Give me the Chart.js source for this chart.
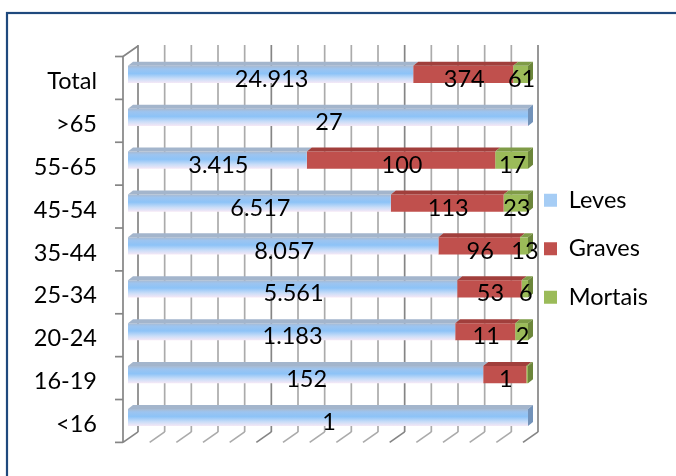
<!DOCTYPE html>
<html>
<head>
<meta charset="utf-8">
<script src="https://cdn.jsdelivr.net/npm/chart.js@4/dist/chart.umd.min.js"></script>
<style>
html,body{margin:0;padding:0;background:#ffffff;}
#wrap{width:676px;height:476px;position:relative;}
</style>
</head>
<body>
<div id="wrap"><canvas id="c" width="676" height="476"></canvas></div>
<script>
// ---- data ----
const categories = ['Total', '>65', '55-65', '45-54', '35-44', '25-34', '20-24', '16-19', '<16'];
const seriesNames = ['Leves', 'Graves', 'Mortais'];
// bar lengths as share of the full (100%) bar
const levesShare   = [71.3, 100, 44.7, 65.7, 77.6, 82.3, 81.8, 88.8, 100];
const gravesShare  = [25.0,   0, 47.1, 28.2, 20.4, 16.1, 15.0, 10.8,   0];
const mortaisShare = [ 3.7,   0,  8.2,  6.1,  2.0,  1.6,  3.2,  0.4,   0];
// value labels printed on the bars
const levesLabels   = ['24.913', '27', '3.415', '6.517', '8.057', '5.561', '1.183', '152', '1'];
const gravesLabels  = ['374', '', '100', '113', '96', '53', '11', '1', ''];
const mortaisLabels = ['61', '', '17', '23', '13', '6', '2', '', ''];
const gridSteps = 15;

// ---- styles ----
const FONT = 'Lato, "Open Sans", sans-serif';
const FSIZE = 23.5;
const BAR_PCT = 0.4;
const DX = 5, DY = 4;           // bar depth
const BACK = {dx: 10, dy: -7};  // back wall offset from bar plane
const FRONT = {dx: -5, dy: 3.5};// front plane offset from bar plane
const topColors  = ['#A3B5CC', '#A13F3C', '#7F9B47'];
const sideColors = ['#7393BA', '#8E3532', '#6C863B'];
const labelArrays = [levesLabels, gravesLabels, mortaisLabels];

function levesFill(c) {
  const chart = c.chart;
  const y = chart.scales && chart.scales.y;
  if (!y || c.dataIndex === undefined || !chart.chartArea) return '#8EC3F5';
  const band = Math.abs(y.getPixelForValue(1) - y.getPixelForValue(0));
  const h = band * BAR_PCT;
  const cy = y.getPixelForValue(c.dataIndex);
  const g = chart.ctx.createLinearGradient(0, cy - h / 2, 0, cy + h / 2);
  g.addColorStop(0, '#A9BAD0');
  g.addColorStop(0.18, '#9CC4F0');
  g.addColorStop(0.45, '#8DC3F7');
  g.addColorStop(0.75, '#C9DDF8');
  g.addColorStop(1, '#F5E8F6');
  return g;
}

const framePlugin = {
  id: 'frame',
  beforeDraw(chart) {
    const ctx = chart.ctx;
    ctx.save();
    ctx.strokeStyle = '#1F497D';
    ctx.lineWidth = 2.2;
    ctx.strokeRect(7, 13, 720, 520);
    ctx.restore();
  }
};

const wallsPlugin = {
  id: 'walls',
  beforeDatasetsDraw(chart) {
    const ctx = chart.ctx;
    const xs = chart.scales.x;
    const top = chart.chartArea.top, bottom = chart.chartArea.bottom;
    const left = chart.chartArea.left;
    ctx.save();
    ctx.lineCap = 'butt';
    for (let k = 0; k <= gridSteps; k++) {
      const X = xs.getPixelForValue(k * 100 / gridSteps);
      const major = k % 5 === 0;
      ctx.strokeStyle = major ? '#858585' : '#ABABAB';
      ctx.lineWidth = 1.7;
      ctx.beginPath();
      ctx.moveTo(X + BACK.dx, top + BACK.dy - 1);
      ctx.lineTo(X + BACK.dx, bottom + BACK.dy);
      ctx.stroke();
      ctx.beginPath();
      ctx.moveTo(X + FRONT.dx, bottom + FRONT.dy);
      ctx.lineTo(X + BACK.dx, bottom + BACK.dy);
      ctx.stroke();
    }
    ctx.strokeStyle = '#858585';
    ctx.lineWidth = 1.7;
    const fx = left + FRONT.dx;
    ctx.beginPath();
    ctx.moveTo(fx, top + FRONT.dy);
    ctx.lineTo(fx, bottom + FRONT.dy);
    ctx.moveTo(fx, top + FRONT.dy);
    ctx.lineTo(left + BACK.dx, top + BACK.dy);
    ctx.stroke();
    const band = (bottom - top) / categories.length;
    for (let j = 0; j <= categories.length; j++) {
      const yy = top + FRONT.dy + j * band;
      ctx.beginPath();
      ctx.moveTo(fx - 8, yy);
      ctx.lineTo(fx, yy);
      ctx.stroke();
    }
    ctx.restore();
  }
};

const barsPlugin = {
  id: 'bars3d',
  afterDatasetsDraw(chart) {
    const ctx = chart.ctx;
    ctx.save();
    for (let i = 0; i < categories.length; i++) {
      let last = null, lastD = -1;
      chart.data.datasets.forEach((ds, d) => {
        if (!(ds.data[i] > 0)) return;
        const el = chart.getDatasetMeta(d).data[i];
        const p = el.getProps(['x', 'y', 'base', 'height'], true);
        const l = Math.min(p.x, p.base), r = Math.max(p.x, p.base), t = p.y - p.height / 2;
        ctx.fillStyle = topColors[d];
        ctx.beginPath();
        ctx.moveTo(l, t); ctx.lineTo(r, t); ctx.lineTo(r + DX, t - DY); ctx.lineTo(l + DX, t - DY);
        ctx.closePath(); ctx.fill();
        last = {r, t, h: p.height}; lastD = d;
      });
      if (last) {
        ctx.fillStyle = sideColors[lastD];
        ctx.beginPath();
        ctx.moveTo(last.r, last.t); ctx.lineTo(last.r + DX, last.t - DY);
        ctx.lineTo(last.r + DX, last.t - DY + last.h); ctx.lineTo(last.r, last.t + last.h);
        ctx.closePath(); ctx.fill();
      }
    }
    ctx.fillStyle = '#000000';
    ctx.font = FSIZE + 'px ' + FONT;
    ctx.textAlign = 'center';
    ctx.textBaseline = 'middle';
    chart.data.datasets.forEach((ds, d) => {
      const meta = chart.getDatasetMeta(d);
      meta.data.forEach((el, i) => {
        const txt = labelArrays[d][i];
        if (!txt) return;
        const p = el.getProps(['x', 'y', 'base'], true);
        ctx.fillText(txt, (p.x + p.base) / 2 + 1, p.y + 5);
      });
    });
    ctx.restore();
  }
};

const legendShift = {
  id: 'legendShift',
  afterLayout(chart) {
    const lg = chart.legend;
    if (lg) { lg.left -= 9; lg.right -= 9; }
  }
};

const chart = new Chart(document.getElementById('c'), {
  type: 'bar',
  data: {
    labels: categories,
    datasets: [
      {label: seriesNames[0], data: levesShare, backgroundColor: levesFill},
      {label: seriesNames[1], data: gravesShare, backgroundColor: '#C0504D'},
      {label: seriesNames[2], data: mortaisShare, backgroundColor: '#9BBB59'}
    ]
  },
  options: {
    indexAxis: 'y',
    responsive: false,
    animation: false,
    events: [],
    datasets: {bar: {barPercentage: BAR_PCT, categoryPercentage: 1, borderWidth: 0}},
    layout: {padding: {top: 53, bottom: 31.5, left: 0, right: 25}},
    scales: {
      x: {
        stacked: true, min: 0, max: 100, display: false,
        ticks: {stepSize: 100 / gridSteps}
      },
      y: {
        stacked: true,
        grid: {display: false},
        border: {display: false},
        ticks: {color: '#000000', font: {family: FONT, size: FSIZE}, padding: 23, labelOffset: 7},
        afterFit(s) { s.width = 128; }
      }
    },
    plugins: {
      tooltip: {enabled: false},
      legend: {
        position: 'right',
        align: 'center',
        labels: {
          color: '#000000',
          font: {family: FONT, size: FSIZE},
          boxWidth: 13,
          boxHeight: 13,
          padding: 25,
          generateLabels(ch) {
            const fills = ['#A6CDF5', '#C0504D', '#9BBB59'];
            return ch.data.datasets.map((ds, i) => ({
              text: ds.label, fillStyle: fills[i], strokeStyle: fills[i], lineWidth: 0,
              hidden: false, datasetIndex: i, fontColor: '#000000'
            }));
          }
        }
      }
    }
  },
  plugins: [framePlugin, wallsPlugin, barsPlugin, legendShift]
});
const diff = 528 - chart.chartArea.right;
if (Math.abs(diff) > 0.5) {
  chart.options.layout.padding.right -= diff;
  chart.update();
}
</script>
</body>
</html>
